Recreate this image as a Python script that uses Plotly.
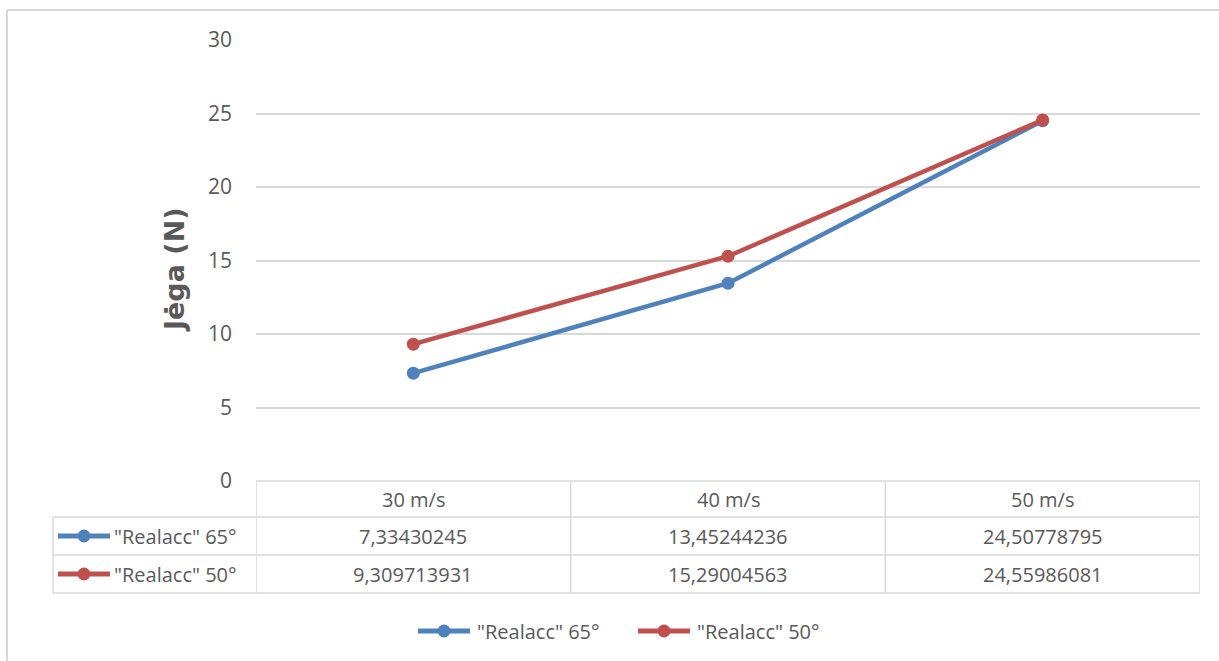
import plotly.graph_objects as go

# Data
categories = ["30 m/s", "40 m/s", "50 m/s"]
series_names = ['"Realacc" 65°', '"Realacc" 50°']
realacc_65 = [7.33430245, 13.45244236, 24.50778795]
realacc_50 = [9.309713931, 15.29004563, 24.55986081]
y_ticks = [0, 5, 10, 15, 20, 25, 30]

colors = ["#4F81BD", "#C0504D"]
series_values = [realacc_65, realacc_50]

W, H = 1219, 661
L, R, T, B = 256, 19, 40, 180
PW, PH = W - L - R, H - T - B

FONT = "Open Sans"
TXT = "#595959"
GRID = "#D9D9D9"
TABLE_SIZE = 20


def px_x(px):
    return (px - L) / PW


def px_y(py):
    return (H - B - py) / PH


fig = go.Figure()
for name, vals, col in zip(series_names, series_values, colors):
    fig.add_trace(go.Scatter(
        x=categories, y=vals, name=name, mode="lines+markers",
        line=dict(color=col, width=4.5),
        marker=dict(color=col, size=13),
        showlegend=False, cliponaxis=False,
    ))

shapes = []
annotations = []

# Outer chart frame (top and left edges)
shapes.append(dict(type="line", xref="paper", yref="paper",
                   x0=px_x(7), x1=px_x(W + 5), y0=px_y(10), y1=px_y(10),
                   line=dict(color=GRID, width=2)))
shapes.append(dict(type="line", xref="paper", yref="paper",
                   x0=px_x(7), x1=px_x(7), y0=px_y(10), y1=px_y(H + 5),
                   line=dict(color=GRID, width=2)))

# Data table grid
row_lines = [481, 517, 555, 593]
table_left = 53
shapes.append(dict(type="line", xref="x", yref="paper",
                   x0=-0.5, x1=len(categories) - 0.5,
                   y0=px_y(row_lines[0]), y1=px_y(row_lines[0]),
                   line=dict(color=GRID, width=1.5)))
for ry in row_lines[1:]:
    shapes.append(dict(type="line", xref="paper", yref="paper",
                       x0=px_x(table_left), x1=1,
                       y0=px_y(ry), y1=px_y(ry),
                       line=dict(color=GRID, width=1.5)))
shapes.append(dict(type="line", xref="paper", yref="paper",
                   x0=px_x(table_left), x1=px_x(table_left),
                   y0=px_y(row_lines[1]), y1=px_y(row_lines[3]),
                   line=dict(color=GRID, width=1.5)))
for k in range(len(categories) + 1):
    shapes.append(dict(type="line", xref="x", yref="paper",
                       x0=k - 0.5, x1=k - 0.5,
                       y0=px_y(row_lines[0]), y1=px_y(row_lines[3]),
                       line=dict(color=GRID, width=1.5)))


def text_at(x, y, text, xref="paper", xanchor="center", size=TABLE_SIZE):
    annotations.append(dict(x=x, y=y, xref=xref, yref="paper", text=text,
                            showarrow=False, xanchor=xanchor, yanchor="middle",
                            font=dict(family=FONT, size=size, color=TXT)))


# Header row: category labels
hdr_y = px_y((row_lines[0] + row_lines[1]) / 2)
for c in categories:
    text_at(c, hdr_y, c, xref="x")


def legend_key(cx_px, cy_px, col):
    # line segment with a round marker in the middle
    shapes.append(dict(type="line", xref="paper", yref="paper",
                       x0=px_x(cx_px - 26), x1=px_x(cx_px + 26),
                       y0=px_y(cy_px), y1=px_y(cy_px),
                       line=dict(color=col, width=5)))
    shapes.append(dict(type="circle", xref="paper", yref="paper",
                       xsizemode="pixel", ysizemode="pixel",
                       xanchor=px_x(cx_px), yanchor=px_y(cy_px),
                       x0=-6.5, x1=6.5, y0=-6.5, y1=6.5,
                       fillcolor=col, line=dict(color=col, width=0)))


# Value rows
for r, (name, vals, col) in enumerate(zip(series_names, series_values, colors)):
    cy = (row_lines[r + 1] + row_lines[r + 2]) / 2
    legend_key(84, cy, col)
    text_at(px_x(112), px_y(cy), name, xanchor="left")
    for c, v in zip(categories, vals):
        text_at(c, px_y(cy), repr(v).replace(".", ","), xref="x")

# Bottom legend
leg_y = 631
for name, col, kx in zip(series_names, colors, [444, 664]):
    legend_key(kx, leg_y, col)
    text_at(px_x(kx + 31), px_y(leg_y), name, xanchor="left")

# Y-axis title
annotations.append(dict(x=px_x(174), y=px_y(270), xref="paper", yref="paper",
                        text="<b>Jėga (N)</b>", textangle=-90, showarrow=False,
                        xanchor="center", yanchor="middle",
                        font=dict(family="DejaVu Sans", size=27, color=TXT)))

fig.update_layout(
    width=W, height=H,
    margin=dict(l=L, r=R, t=T, b=B),
    paper_bgcolor="white", plot_bgcolor="white",
    font=dict(family=FONT, color=TXT, size=TABLE_SIZE),
    xaxis=dict(type="category", range=[-0.5, len(categories) - 0.5],
               showticklabels=False, showgrid=False, zeroline=False,
               showline=False, ticks=""),
    yaxis=dict(range=[0, 30], tickvals=y_ticks, showgrid=True, gridcolor=GRID,
               gridwidth=1.5, zeroline=False, showline=False, ticks="",
               ticklabelstandoff=23,
               tickfont=dict(family=FONT, size=21, color=TXT)),
    shapes=shapes, annotations=annotations,
    showlegend=False,
)

fig.write_html("out.html")
